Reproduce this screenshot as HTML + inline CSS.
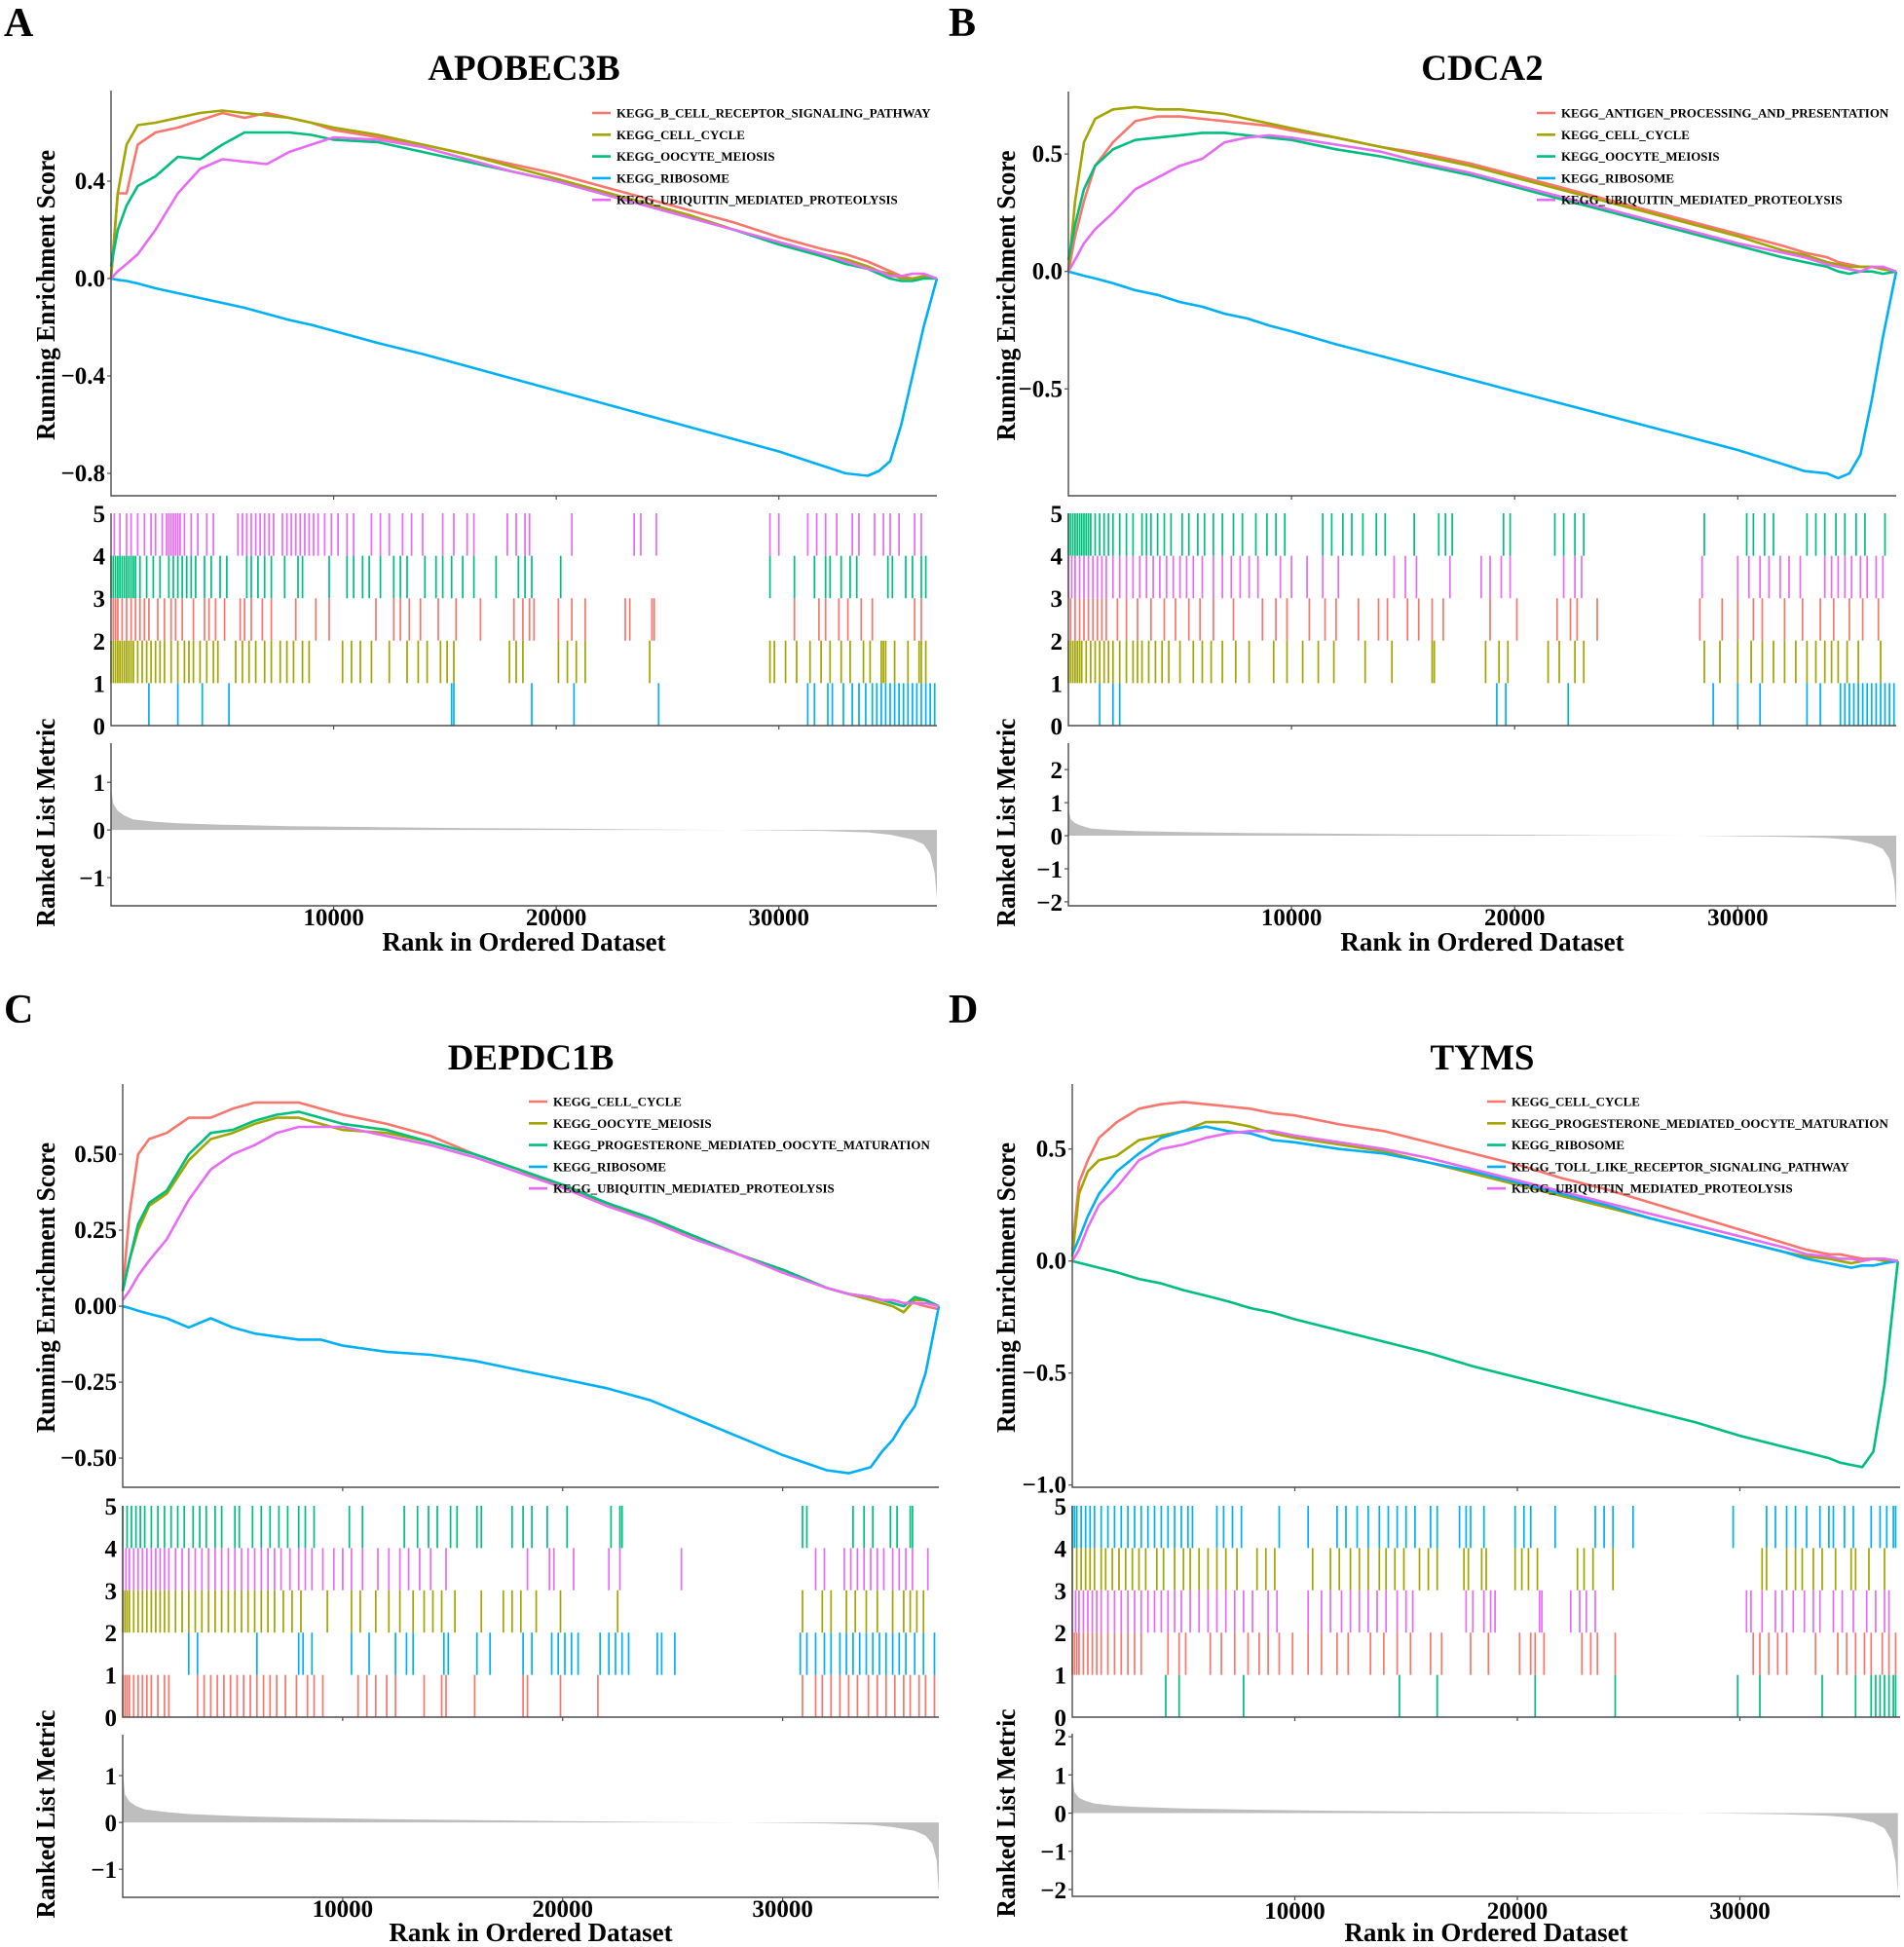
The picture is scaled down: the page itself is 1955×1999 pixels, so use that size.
<!DOCTYPE html>
<html><head><meta charset="utf-8">
<style>
html,body{margin:0;padding:0;background:#fff;}
svg{display:block;font-family:"Liberation Serif",serif;font-weight:bold;}
</style></head>
<body>
<svg id="fig" width="1955" height="1999" viewBox="0 0 1955 1999" xmlns="http://www.w3.org/2000/svg"></svg>
<script>
// ---------- shared rank grids ----------
const esRank = [0,300,700,1200,2000,3000,4000,5000,6000,7000,8000,9000,10000,12000,14000,16000,18000,20000,22000,24000,26000,28000,30000,32000,33000,34000,34500,35000,35500,36000,36500,37100];
const metRank = [0,100,300,600,1000,2000,3000,5000,8000,12000,16000,20000,24000,28000,32000,34000,35000,36000,36500,36800,37000,37100];
const xTicks = [10000,20000,30000];
const rugTicks = [0,1,2,3,4,5];

// ---------- Panel A: APOBEC3B ----------
const aNames = ["KEGG_B_CELL_RECEPTOR_SIGNALING_PATHWAY","KEGG_CELL_CYCLE","KEGG_OOCYTE_MEIOSIS","KEGG_RIBOSOME","KEGG_UBIQUITIN_MEDIATED_PROTEOLYSIS"];
const aES0 = [0,0.35,0.35,0.55,0.6,0.62,0.65,0.68,0.66,0.68,0.66,0.64,0.61,0.58,0.55,0.51,0.47,0.43,0.38,0.33,0.28,0.23,0.17,0.12,0.1,0.07,0.05,0.03,0.01,0.0,0.01,0];
const aES1 = [0,0.35,0.55,0.63,0.64,0.66,0.68,0.69,0.68,0.67,0.66,0.64,0.62,0.59,0.55,0.51,0.46,0.41,0.36,0.31,0.26,0.2,0.15,0.1,0.08,0.05,0.03,0.02,0.0,0.0,0.01,0];
const aES2 = [0.05,0.2,0.3,0.38,0.42,0.5,0.49,0.55,0.6,0.6,0.6,0.59,0.57,0.56,0.52,0.48,0.44,0.4,0.35,0.3,0.25,0.2,0.14,0.09,0.06,0.04,0.02,0.0,-0.01,-0.01,0.0,0];
const aES3 = [0,-0.005,-0.01,-0.02,-0.04,-0.06,-0.08,-0.1,-0.12,-0.145,-0.17,-0.19,-0.215,-0.265,-0.31,-0.36,-0.41,-0.46,-0.51,-0.56,-0.61,-0.66,-0.71,-0.77,-0.8,-0.81,-0.79,-0.75,-0.6,-0.4,-0.2,0];
const aES4 = [0,0.03,0.06,0.1,0.2,0.35,0.45,0.49,0.48,0.47,0.52,0.55,0.58,0.57,0.54,0.49,0.44,0.4,0.35,0.3,0.25,0.2,0.15,0.1,0.07,0.04,0.03,0.01,0.01,0.02,0.02,0];
// hits, in legend colour order: red, olive, green, blue, magenta
const aRug0 = [100,200,300,500,700,900,1100,1300,1500,1700,2100,2400,2700,2900,3200,3700,4200,4400,4700,5100,5800,6000,6300,6800,7200,8300,9200,9800,11900,12700,13000,13400,13900,14700,15500,16600,18100,18500,18800,19000,20100,20700,21300,23100,23300,24300,24400,30700,31800,32100,32700,33100,33700,34200,36100,36400];
const aRug1 = [0,100,200,300,400,500,600,700,800,900,1000,1200,1400,1600,1800,2000,2200,2400,2700,3000,3300,3500,3700,4000,4300,4600,4800,5600,5900,6200,6500,6900,7200,7600,7900,8200,8600,8900,10400,10800,11200,11700,12500,13300,13800,14200,14800,15100,15400,17900,18200,18500,20100,20500,20900,21300,24200,29600,29800,30300,30800,31400,31900,32300,32800,33200,33800,34100,34600,34700,34800,35200,35800,36300,36400,36600];
const aRug2 = [0,100,200,300,400,500,600,700,800,900,1000,1100,1300,1600,1900,2200,2600,2800,3000,3200,3400,3600,3800,4200,4500,4900,5200,6100,6300,6600,6900,7200,7800,8400,8600,9800,10600,10900,11300,11600,12100,12700,13000,13300,14100,14600,14900,15300,15800,16300,17300,18300,18600,18900,20200,29600,30700,31600,32100,32300,32800,33200,33500,34900,35100,35700,36000,36400,36600];
const aRug3 = [1700,3000,4100,5300,15300,15400,18900,20800,24600,31300,31600,32200,32400,32900,33300,33600,33900,34200,34400,34600,34800,35000,35200,35400,35600,35800,36000,36200,36400,36600,36800,37000];
const aRug4 = [150,400,700,900,1200,1500,1800,2000,2300,2500,2600,2700,2800,2900,3000,3100,3300,3600,3900,4300,4600,5700,5900,6100,6300,6500,6700,6900,7100,7300,7700,7900,8100,8300,8500,8700,8900,9100,9300,9600,9900,10200,10600,10900,11700,12100,12500,13100,13500,14000,14900,15400,16000,16300,17800,18200,18600,18800,20700,23500,23800,24500,29600,30000,31300,31700,32100,32600,33300,33600,34300,34700,35000,35400,36100,36400];
const aMetric = [0.9,0.55,0.4,0.3,0.22,0.17,0.14,0.11,0.08,0.06,0.04,0.03,0.01,0,-0.02,-0.05,-0.1,-0.2,-0.3,-0.5,-0.9,-1.45];
const aEsTicks = [-0.8,-0.4,0.0,0.4];
const aEsLabels = ["\u22120.8","\u22120.4","0.0","0.4"];
const aMetTicks = [-1,0,1];

// ---------- Panel B: CDCA2 ----------
const bNames = ["KEGG_ANTIGEN_PROCESSING_AND_PRESENTATION","KEGG_CELL_CYCLE","KEGG_OOCYTE_MEIOSIS","KEGG_RIBOSOME","KEGG_UBIQUITIN_MEDIATED_PROTEOLYSIS"];
const bES0 = [0,0.15,0.3,0.45,0.55,0.64,0.66,0.66,0.65,0.64,0.63,0.62,0.6,0.57,0.53,0.5,0.46,0.41,0.36,0.31,0.26,0.21,0.16,0.11,0.08,0.06,0.04,0.03,0.02,0.02,0.01,0];
const bES1 = [0,0.3,0.55,0.65,0.69,0.7,0.69,0.69,0.68,0.67,0.65,0.63,0.61,0.57,0.53,0.49,0.45,0.4,0.35,0.3,0.25,0.2,0.15,0.09,0.07,0.04,0.03,0.02,0.02,0.02,0.01,0];
const bES2 = [0.05,0.2,0.35,0.45,0.52,0.56,0.57,0.58,0.59,0.59,0.58,0.57,0.56,0.52,0.49,0.45,0.41,0.36,0.31,0.26,0.21,0.16,0.11,0.06,0.04,0.02,0.0,-0.01,0.0,0.0,-0.01,0];
const bES3 = [0,-0.008,-0.018,-0.03,-0.05,-0.08,-0.1,-0.13,-0.15,-0.18,-0.2,-0.23,-0.255,-0.31,-0.36,-0.41,-0.46,-0.51,-0.56,-0.61,-0.66,-0.71,-0.76,-0.82,-0.85,-0.86,-0.88,-0.86,-0.78,-0.55,-0.28,0];
const bES4 = [0,0.05,0.12,0.18,0.25,0.35,0.4,0.45,0.48,0.55,0.57,0.58,0.57,0.54,0.51,0.46,0.42,0.37,0.32,0.27,0.22,0.17,0.12,0.08,0.06,0.03,0.02,0.01,0.0,0.02,0.02,0];
const bRug0 = [100,300,500,700,900,1100,1300,1500,1700,2200,2600,3100,3700,4300,4800,5400,5900,6500,7400,8700,9300,9800,10800,11500,12000,13000,13900,14300,15200,15700,16300,16800,18900,20100,21900,22500,22800,23700,28300,29300,30000,30700,31100,32100,32900,33700,34300,35000,35600,36300];
const bRug1 = [0,100,200,300,400,500,600,800,1000,1200,1400,1600,1800,2000,2300,2600,2900,3100,3300,3600,3900,4200,4500,5000,5600,6000,6400,6900,7500,8100,9200,9800,10500,11200,11900,13300,14500,16300,16400,18700,19300,19700,21500,22000,22700,23100,28500,29200,30000,30600,31100,31600,32100,32600,33100,33500,33900,34200,34500,34900,35400,36400];
const bRug2 = [0,100,200,300,400,500,600,700,800,900,1000,1200,1400,1600,1800,2000,2300,2600,2900,3300,3500,3700,4000,4300,4600,5100,5400,5800,6100,6500,6900,7400,7800,8400,8900,9300,9700,11400,11800,12300,12700,13200,13800,14200,15500,16600,16900,17200,19500,19800,21800,22200,22700,23100,28500,30400,30700,31200,31600,33100,33500,33900,34400,34800,35300,35700,36600];
const bRug3 = [1400,2000,2300,19200,19600,22400,28900,30000,31000,33100,33700,34600,34800,35000,35200,35400,35600,35800,36000,36200,36400,36600,36800,37000];
const bRug4 = [0,150,300,500,700,900,1100,1300,1500,1700,2000,2300,2600,2900,3200,3500,3800,4100,4400,4700,5000,5300,5600,6000,6500,6900,7300,7700,8100,8500,9500,10000,10700,11400,12100,14600,15100,15600,17100,18500,18900,19400,19800,22200,22700,23000,28400,30000,30500,31000,31400,31900,32300,32800,33900,34200,34500,34800,35100,35500,35800,36200,36500];
const bMetric = [0.85,0.5,0.38,0.3,0.22,0.17,0.14,0.11,0.08,0.06,0.04,0.03,0.01,0,-0.03,-0.07,-0.12,-0.25,-0.4,-0.7,-1.3,-2.1];
const bEsTicks = [-0.5,0.0,0.5];
const bEsLabels = ["\u22120.5","0.0","0.5"];
const bMetTicks = [-2,-1,0,1,2];

// ---------- Panel C: DEPDC1B ----------
const cNames = ["KEGG_CELL_CYCLE","KEGG_OOCYTE_MEIOSIS","KEGG_PROGESTERONE_MEDIATED_OOCYTE_MATURATION","KEGG_RIBOSOME","KEGG_UBIQUITIN_MEDIATED_PROTEOLYSIS"];
const cES0 = [0.05,0.3,0.5,0.55,0.57,0.62,0.62,0.65,0.67,0.67,0.67,0.65,0.63,0.6,0.56,0.5,0.45,0.39,0.34,0.28,0.23,0.17,0.12,0.06,0.04,0.03,0.02,0.02,0.01,0.01,0.0,-0.01];
const cES1 = [0.05,0.15,0.25,0.33,0.37,0.48,0.55,0.57,0.6,0.62,0.62,0.6,0.58,0.57,0.54,0.5,0.45,0.39,0.34,0.28,0.23,0.17,0.12,0.06,0.04,0.02,0.01,0.0,-0.02,0.02,0.02,0];
const cES2 = [0.05,0.15,0.27,0.34,0.38,0.5,0.57,0.58,0.61,0.63,0.64,0.62,0.6,0.58,0.54,0.5,0.45,0.4,0.34,0.29,0.23,0.17,0.12,0.06,0.04,0.03,0.02,0.01,0.0,0.03,0.02,0];
const cES3 = [0,-0.006,-0.015,-0.025,-0.04,-0.07,-0.04,-0.07,-0.09,-0.1,-0.11,-0.11,-0.13,-0.15,-0.16,-0.18,-0.21,-0.24,-0.27,-0.31,-0.37,-0.43,-0.49,-0.54,-0.55,-0.53,-0.48,-0.44,-0.38,-0.33,-0.22,0];
const cES4 = [0.02,0.05,0.1,0.15,0.22,0.35,0.45,0.5,0.53,0.57,0.59,0.59,0.59,0.56,0.53,0.49,0.44,0.39,0.33,0.28,0.22,0.17,0.11,0.06,0.04,0.03,0.02,0.02,0.01,0.01,0.01,0];
const cRug0 = [0,100,200,300,500,700,900,1100,1300,1600,1900,2100,3400,3700,4000,4300,4600,4900,5200,5500,5800,6100,6400,6700,7000,7400,7900,8400,8700,9100,10700,11100,11500,12000,12400,13700,14500,14700,16000,18200,18400,19900,21600,30900,31500,31800,32200,32600,33000,33400,33900,34300,34700,35100,35500,35800,36200,36500,36900];
const cRug1 = [0,100,200,300,500,700,900,1100,1300,1500,1700,1900,2100,2400,2700,3000,3300,3600,3900,4200,4500,4800,5100,5400,5700,6000,6300,6600,6900,7300,7700,8100,9300,10400,10800,11500,12100,12600,13200,13700,14100,14500,15100,16300,17300,17700,18100,18800,19900,22500,30900,31800,32200,32900,33300,33800,34300,35000,35500,35800,36100,36400];
const cRug2 = [0,200,400,600,800,1000,1300,1600,1900,2200,2500,2800,3200,3500,3800,4200,4500,5100,5300,5900,6300,6700,7100,7500,8000,8300,8700,10300,10900,12800,13400,13900,14300,14900,15200,16100,16300,17700,18200,18600,19300,20200,22200,22600,22700,30900,31100,33200,33700,34100,34900,35200,35800,35900];
const cRug3 = [3000,3400,6100,8000,8200,8600,10400,11200,12400,12900,13200,14600,14800,16100,16700,18200,18600,19500,19800,20100,20400,20700,21700,22100,22400,22700,23000,24300,24500,25100,30800,31100,31500,31900,32200,32600,32900,33200,33500,33800,34100,34400,34700,35000,35300,35600,36000,36400,36900];
const cRug4 = [0,150,300,500,700,900,1100,1300,1500,1700,1900,2100,2400,2700,3000,3300,3600,3900,4200,4500,4800,5100,5400,5700,6000,6300,6600,6900,7200,7600,8000,8300,8600,9100,9600,10000,10400,10900,11600,12100,12600,13000,13500,14000,14700,18400,19400,19600,20500,22100,22600,25400,31500,31900,32800,33100,33400,33700,34000,34300,34600,35000,35300,35600,35900,36600];
const cMetric = [1.1,0.6,0.45,0.35,0.28,0.22,0.18,0.14,0.1,0.07,0.05,0.03,0.01,0,-0.02,-0.05,-0.1,-0.18,-0.28,-0.45,-0.8,-1.5];
const cEsTicks = [-0.5,-0.25,0,0.25,0.5];
const cEsLabels = ["\u22120.50","\u22120.25","0.00","0.25","0.50"];
const cMetTicks = [-1,0,1];

// ---------- Panel D: TYMS ----------
const dNames = ["KEGG_CELL_CYCLE","KEGG_PROGESTERONE_MEDIATED_OOCYTE_MATURATION","KEGG_RIBOSOME","KEGG_TOLL_LIKE_RECEPTOR_SIGNALING_PATHWAY","KEGG_UBIQUITIN_MEDIATED_PROTEOLYSIS"];
const dES0 = [0.05,0.35,0.45,0.55,0.62,0.68,0.7,0.71,0.7,0.69,0.68,0.66,0.65,0.61,0.58,0.53,0.48,0.43,0.37,0.32,0.26,0.2,0.14,0.08,0.05,0.03,0.03,0.02,0.01,0.01,0.01,0];
const dES1 = [0.02,0.3,0.4,0.45,0.47,0.54,0.56,0.58,0.62,0.62,0.6,0.57,0.55,0.52,0.49,0.44,0.39,0.34,0.29,0.24,0.19,0.14,0.09,0.04,0.02,0.01,0.0,-0.01,0.0,0.01,0.0,0];
const dES2 = [0,-0.008,-0.018,-0.03,-0.05,-0.08,-0.1,-0.13,-0.155,-0.18,-0.21,-0.23,-0.26,-0.31,-0.36,-0.41,-0.47,-0.52,-0.57,-0.62,-0.67,-0.72,-0.78,-0.83,-0.855,-0.88,-0.9,-0.91,-0.92,-0.85,-0.55,0];
const dES3 = [0.03,0.1,0.2,0.3,0.4,0.48,0.55,0.58,0.6,0.58,0.57,0.54,0.53,0.5,0.48,0.44,0.4,0.35,0.3,0.25,0.19,0.14,0.09,0.04,0.01,-0.01,-0.02,-0.03,-0.02,-0.02,-0.01,0];
const dES4 = [0,0.05,0.15,0.25,0.33,0.45,0.5,0.52,0.55,0.57,0.58,0.58,0.56,0.53,0.5,0.46,0.41,0.36,0.31,0.26,0.21,0.16,0.11,0.06,0.03,0.02,0.01,0.01,0.0,0.01,0.01,0];
const dRug0 = [0,100,200,300,500,700,900,1100,1300,1600,1900,2200,2500,2800,3100,4300,4800,5100,6200,6700,7300,7900,8400,8800,9300,9900,10600,11200,11900,12400,13400,14000,14600,15200,16100,16600,17900,18700,20100,20600,20800,21200,22900,23300,23600,24400,30600,30900,31300,31700,32100,33400,34400,34800,35200,35600,35900,36400,36700,37000];
const dRug1 = [0,200,400,600,800,1000,1300,1500,1800,2100,2400,2700,3000,3300,3800,4100,4600,5000,5300,5700,6100,6500,6900,7400,8300,8700,9100,10800,11600,12000,12500,12900,13300,13800,14100,14500,14900,15600,16000,16400,17600,17800,18400,18600,19900,20200,20500,20900,22700,23000,23400,24300,31000,31200,32100,32500,32800,33300,33700,34300,35000,35200,35800,36500];
const dRug2 = [4200,4800,7700,14700,16400,20800,24400,29900,30900,33700,35200,35900,36100,36300,36500,36700,36900,37000];
const dRug3 = [0,100,200,400,600,800,1000,1300,1600,1900,2200,2500,2800,3100,3400,3700,4000,4300,4600,4900,5200,5400,6500,6800,7200,7600,9300,10600,11900,12300,12800,13300,13800,14200,14600,15000,15400,16100,16400,17400,17700,17900,18500,19900,20300,20600,21700,23500,23900,24300,25200,29700,31200,31600,32100,32500,33000,33600,34000,34200,34700,35100,35900,36300,36600,36900,37000];
const dRug4 = [0,150,300,500,700,900,1100,1300,1600,1900,2200,2500,2800,3100,3400,3700,4000,4300,4600,4900,5300,5700,6100,6500,6900,7300,7700,8100,8800,9200,10600,11200,11600,12100,12500,12900,13300,13700,14100,14600,15000,15300,17700,18000,18500,18800,19000,21000,21100,22400,22800,23100,23500,30300,30500,31000,31600,31900,32400,32900,33300,33600,34200,34600,35100,35700,36100,36500,36700];
const dMetric = [0.95,0.55,0.4,0.32,0.25,0.19,0.16,0.12,0.09,0.06,0.04,0.03,0.01,0,-0.03,-0.07,-0.12,-0.25,-0.4,-0.7,-1.3,-2.1];
const dEsTicks = [-1.0,-0.5,0.0,0.5];
const dEsLabels = ["\u22121.0","\u22120.5","0.0","0.5"];
const dMetTicks = [-2,-1,0,1,2];

const COLORS = ["#F8766D","#A3A500","#00BF7D","#00B0F6","#E76BF3"];
const NS = "http://www.w3.org/2000/svg";
const svg = document.getElementById("fig");

function mk(tag, attrs, parent){
  const e = document.createElementNS(NS, tag);
  for (const k in attrs) e.setAttribute(k, attrs[k]);
  (parent||svg).appendChild(e);
  return e;
}
function txt(str, attrs, parent){ const t = mk("text", attrs, parent); t.textContent = str; return t; }

const panels = [
 {id:"a", letter:"A", title:"APOBEC3B", lx:4, ly:37, L:114, R:962, xmax:37100, tcx:538, tby:82,
  esT:93, esB:509, esMax:0.772, esMin:-0.892, rugT:527, rugB:745, metT:763, metB:930, metMax:1.82, metMin:-1.59,
  yTitleX:47, legX:608, legY:116, xTickY:950, xLabY:976,
  names:aNames, es:[aES0,aES1,aES2,aES3,aES4], rugs:[aRug0,aRug1,aRug2,aRug3,aRug4], rugRows:[2,1,3,0,4], metric:aMetric,
  esTicks:aEsTicks, esLabels:aEsLabels, metTicks:aMetTicks},
 {id:"b", letter:"B", title:"CDCA2", lx:974, ly:37, L:1097, R:1947, xmax:37100, tcx:1522, tby:82,
  esT:94, esB:509, esMax:0.766, esMin:-0.955, rugT:527, rugB:745, metT:763, metB:930, metMax:2.8, metMin:-2.12,
  yTitleX:1033, legX:1578, legY:116, xTickY:950, xLabY:976,
  names:bNames, es:[bES0,bES1,bES2,bES3,bES4], rugs:[bRug0,bRug1,bRug2,bRug3,bRug4], rugRows:[2,1,4,0,3], metric:bMetric,
  esTicks:bEsTicks, esLabels:bEsLabels, metTicks:bMetTicks},
 {id:"c", letter:"C", title:"DEPDC1B", lx:4, ly:1050, L:126, R:964, xmax:37100, tcx:545, tby:1098,
  esT:1113, esB:1527, esMax:0.731, esMin:-0.596, rugT:1546, rugB:1763, metT:1781, metB:1948, metMax:1.875, metMin:-1.6,
  yTitleX:47, legX:543, legY:1131, xTickY:1968, xLabY:1993,
  names:cNames, es:[cES0,cES1,cES2,cES3,cES4], rugs:[cRug0,cRug1,cRug2,cRug3,cRug4], rugRows:[0,2,4,1,3], metric:cMetric,
  esTicks:cEsTicks, esLabels:cEsLabels, metTicks:cMetTicks},
 {id:"d", letter:"D", title:"TYMS", lx:974, ly:1050, L:1101, R:1951, xmax:37200, tcx:1522, tby:1098,
  esT:1113, esB:1527, esMax:0.79, esMin:-1.01, rugT:1546, rugB:1763, metT:1780, metB:1947, metMax:2.08, metMin:-2.18,
  yTitleX:1033, legX:1527, legY:1131, xTickY:1970, xLabY:1993,
  names:dNames, es:[dES0,dES1,dES2,dES3,dES4], rugs:[dRug0,dRug1,dRug2,dRug3,dRug4], rugRows:[1,3,0,4,2], metric:dMetric,
  esTicks:dEsTicks, esLabels:dEsLabels, metTicks:dMetTicks}
];

const AX = "#4d4d4d";
panels.forEach(p => {
  const g = mk("g", {});
  
  
  const xs = r => p.L + (r / p.xmax) * (p.R - p.L);
  const ys = v => p.esT + (p.esMax - v) / (p.esMax - p.esMin) * (p.esB - p.esT);
  const ym = v => p.metT + (p.metMax - v) / (p.metMax - p.metMin) * (p.metB - p.metT);
  const yr = k => p.rugB - k * (p.rugB - p.rugT) / 5;

  const lt = txt(p.letter, {x:p.lx, y:p.ly, "font-size":42}, g);
  
  
  const tt = txt(p.title, {x:p.tcx, y:p.tby, "font-size":37, "text-anchor":"middle"}, g);
  
  

  p.es.forEach((vals, si) => {
    let d = "";
    vals.forEach((v, i) => { d += (i ? "L" : "M") + xs(esRank[i]).toFixed(1) + "," + ys(v).toFixed(1); });
    const path = mk("path", {d:d, fill:"none", stroke:COLORS[si], "stroke-width":2.6, "stroke-linejoin":"round"}, g);
    
    
  });
  const esAx = mk("path", {d:`M${p.L},${p.esT}V${p.esB}H${p.R}`, fill:"none", stroke:AX, "stroke-width":1.4}, g);
  
  
  p.esTicks.forEach((v, i) => {
    mk("line", {x1:p.L-4, x2:p.L, y1:ys(v), y2:ys(v), stroke:AX, "stroke-width":1.2}, g);
    const t = txt(p.esLabels[i], {x:p.L-6, y:ys(v)+8, "font-size":25, "text-anchor":"end"}, g);
    
    
  });
  xTicks.forEach(r => mk("line", {x1:xs(r), x2:xs(r), y1:p.esB, y2:p.esB+4, stroke:AX, "stroke-width":1.2}, g));

  p.names.forEach((n, i) => {
    const y = p.legY + i * 22.3;
    const ll = mk("line", {x1:p.legX, x2:p.legX+19, y1:y, y2:y, stroke:COLORS[i], "stroke-width":2.6}, g);
    
    
    const t = txt(n, {x:p.legX+25, y:y+4.5, "font-size":12.9}, g);
    
    
  });

  p.rugs.forEach((ranks, si) => {
    const row = p.rugRows[si];
    let d = "";
    ranks.forEach(r => { d += "M" + xs(r).toFixed(1) + "," + yr(row) + "V" + yr(row+1); });
    const path = mk("path", {d:d, stroke:COLORS[si], "stroke-width":1.7, fill:"none"}, g);
    
    
  });
  const rugAx = mk("path", {d:`M${p.L},${p.rugT}V${p.rugB}H${p.R}`, fill:"none", stroke:AX, "stroke-width":1.4}, g);
  
  
  rugTicks.forEach(k => {
    const t = txt(String(k), {x:p.L-6, y:yr(k)+9, "font-size":25, "text-anchor":"end"}, g);
    
    
  });
  xTicks.forEach(r => mk("line", {x1:xs(r), x2:xs(r), y1:p.rugB, y2:p.rugB+4, stroke:AX, "stroke-width":1.2}, g));

  let d = "M" + xs(0) + "," + ym(0);
  p.metric.forEach((v, i) => { d += "L" + xs(metRank[i]).toFixed(1) + "," + ym(v).toFixed(1); });
  d += "L" + xs(metRank[metRank.length-1]) + "," + ym(0) + "Z";
  const area = mk("path", {d:d, fill:"#bebebe", stroke:"none"}, g);
  
  
  const metAx = mk("path", {d:`M${p.L},${p.metT}V${p.metB}H${p.R}`, fill:"none", stroke:AX, "stroke-width":1.4}, g);
  
  
  p.metTicks.forEach(v => {
    mk("line", {x1:p.L-4, x2:p.L, y1:ym(v), y2:ym(v), stroke:AX, "stroke-width":1.2}, g);
    const t = txt(v < 0 ? "\u2212" + Math.abs(v) : String(v), {x:p.L-6, y:ym(v)+9, "font-size":25, "text-anchor":"end"}, g);
    
    
  });
  xTicks.forEach(r => {
    mk("line", {x1:xs(r), x2:xs(r), y1:p.metB, y2:p.metB+4, stroke:AX, "stroke-width":1.2}, g);
    const t = txt(String(r), {x:xs(r), y:p.xTickY, "font-size":25, "text-anchor":"middle"}, g);
    
    
  });
  const xl = txt("Rank in Ordered Dataset", {x:(p.L+p.R)/2, y:p.xLabY, "font-size":27, "text-anchor":"middle"}, g);
  
  

  const ycE = (p.esT + p.esB) / 2 + 2;
  const yt1 = txt("Running Enrichment Score", {x:0, y:0, "font-size":27, "text-anchor":"middle",
    transform:`translate(${p.yTitleX+9},${ycE}) rotate(-90)`, textLength:298, lengthAdjust:"spacingAndGlyphs"}, g);
  
  
  const ycM = (p.metT + p.metB) / 2 - 2;
  const yt2 = txt("Ranked List Metric", {x:0, y:0, "font-size":27, "text-anchor":"middle",
    transform:`translate(${p.yTitleX+9},${ycM}) rotate(-90)`, textLength:214, lengthAdjust:"spacingAndGlyphs"}, g);
  
  
});
</script>
</body></html>
